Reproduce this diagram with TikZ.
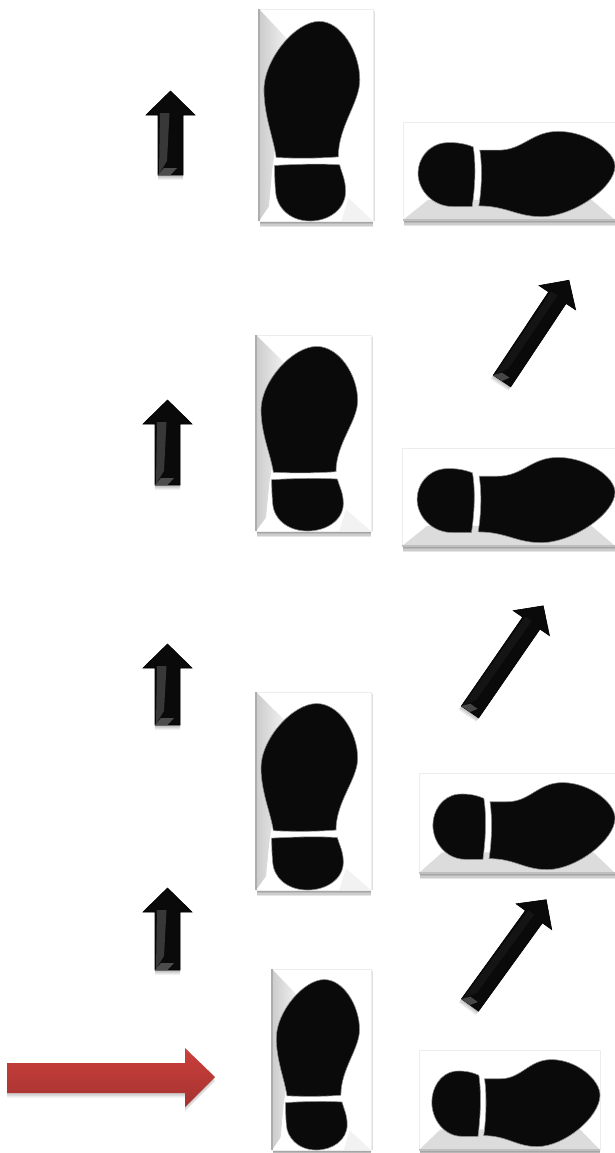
\documentclass[tikz,border=0pt]{standalone}
\usetikzlibrary{calc}
\definecolor{sole}{HTML}{0A0A0A}
\definecolor{bevelgrey}{HTML}{DCDCDC}
\definecolor{redtop}{HTML}{CB403C}
\definecolor{redbot}{HTML}{A53230}
\tikzset{
  solefill/.style={fill=sole,draw=black!45,line width=0.3pt},
  softshadow/.style={fill=black,opacity=0.09,draw=none},
  arrowbody/.style={fill=sole,draw=black,line width=0.3pt},
}
% soft shadow under a box
\newcommand{\boxshadow}[4]{%
  \foreach \g in {1,...,4}{\fill[black,opacity=0.10] (#1+1,#4-1) rectangle (#3,#4+\g*1.5);}
}
% vertical sole plate: x0 y0 x1 y1 (local frame is 345 x 634)
\newcommand{\vfoot}[4]{%
  \boxshadow{#1}{#2}{#3}{#4}
  \fill[black,opacity=0.12] (#3-1,#2+2) rectangle (#3+1.5,#4);
  \filldraw[white,draw=black!7,line width=0.3pt] (#1,#2) rectangle (#3,#4);
  \pgfmathsetmacro{\sx}{(#3-#1)/345}
  \pgfmathsetmacro{\sy}{(#4-#2)/634}
  \begin{scope}[shift={(#1,#2)},xscale=\sx,yscale=\sy]
    \shade[left color=black!20,right color=black!4] (0,0) -- (95,100) -- (40,480) -- (30,590) -- (0,634) -- cycle;
    \draw[black!32,line width=0.6pt] (0,0) -- (0,634);
    \fill[black!5] (270,565) -- (345,634) -- (250,634) -- cycle;
    \path[solefill] (52,444) .. controls (45,390) and (15,320) .. (15,242)
      .. controls (15,150) and (110,37) .. (182,37)
      .. controls (250,37) and (305,130) .. (305,212)
      .. controls (305,280) and (240,350) .. (240,442)
      .. controls (180,447) and (110,447) .. (52,444) -- cycle;
    \path[solefill] (47,468) .. controls (110,464) and (190,462) .. (244,466)
      .. controls (250,490) and (262,510) .. (262,545)
      .. controls (262,600) and (210,634) .. (155,634)
      .. controls (90,634) and (52,590) .. (50,545)
      .. controls (48,520) and (47,490) .. (47,468) -- cycle;
  \end{scope}
}
% horizontal sole plate: x0 y0 x1 y1 (local frame is 635 x 292)
\newcommand{\hfoot}[4]{%
  \boxshadow{#1}{#2}{#3}{#4}
  \filldraw[white,draw=black!7,line width=0.3pt] (#1,#2) rectangle (#3,#4);
  \pgfmathsetmacro{\sx}{(#3-#1)/635}
  \pgfmathsetmacro{\sy}{(#4-#2)/292}
  \begin{scope}[shift={(#1,#2)},xscale=\sx,yscale=\sy]
    \fill[bevelgrey] (0,292) -- (75,232) -- (565,232) -- (635,292) -- cycle;
    \draw[black!25,line width=0.6pt] (0,292) -- (635,292);
    \path[solefill] (210,74) .. controls (180,62) and (150,60) .. (125,62)
      .. controls (75,68) and (45,110) .. (45,152)
      .. controls (45,205) and (90,252) .. (150,252)
      -- (207,252) .. controls (215,200) and (220,130) .. (210,74) -- cycle;
    \path[solefill] (230,84) -- (285,84)
      .. controls (360,84) and (385,28) .. (465,28)
      .. controls (550,28) and (635,85) .. (635,132)
      .. controls (635,195) and (510,282) .. (415,282)
      .. controls (340,282) and (310,250) .. (227,250)
      .. controls (236,200) and (238,130) .. (230,84) -- cycle;
  \end{scope}
}
% arrow: tail x, tail y, visual angle, length, half shaft, half head, head length, stripe grey, tail grey
\newcommand{\blackarrow}[9]{%
  \begin{scope}[shift={(#1,#2)},rotate=#3]
    \foreach \d in {1,2,3}{
      \path[softshadow] (-\d*1.5,-#5) -- (#4-#7,-#5) -- (#4-#7,-#6) -- (#4,0) -- (#4-#7,#6) -- (#4-#7,#5) -- (-\d*1.5,#5) -- cycle;
    }
    \path[arrowbody] (0,-#5) -- (#4-#7,-#5) -- (#4-#7,-#6) -- (#4,0)
      -- (#4-#7,#6) -- (#4-#7,#5) -- (0,#5) -- cycle;
    \fill[black!#8] (1,-#5+1) -- (#4-#7+2,-#5+2) -- (#4-#7+2,-1) -- (14,-#5+9) -- cycle;
    \fill[black!#9] (0,-#5) -- (7,-#5+6) -- (7,#5-6) -- (0,0) -- cycle;
  \end{scope}
}
\begin{document}
\begin{tikzpicture}[x=0.5pt,y=-0.5pt]
\useasboundingbox (0,0) rectangle (615,1153);
\fill[white] (0,0) rectangle (615,1153);

% up arrows
\blackarrow{170.5}{175}{90}{84}{12.5}{24.5}{24}{78}{70}
\blackarrow{167.5}{485}{90}{85}{12.5}{24.5}{24}{78}{70}
\blackarrow{167.5}{725}{90}{81}{12.5}{24.5}{24}{78}{70}
\blackarrow{167.5}{970}{90}{82}{12.5}{24.5}{24}{78}{70}

% diagonal arrows
\blackarrow{502}{381}{56.4}{121}{10.5}{22}{21}{92}{72}
\blackarrow{470}{712}{55.4}{129}{10.5}{22}{21}{92}{72}
\blackarrow{470}{1005}{54.1}{130}{10.5}{22}{21}{92}{72}

% sole plates
\vfoot{259}{9}{373}{221}
\hfoot{403}{122}{615}{220}
\vfoot{256}{335}{371}{531}
\hfoot{402}{448}{615}{546}
\vfoot{256}{692}{371}{890}
\hfoot{419}{773}{615}{873}
\vfoot{272}{969}{371}{1150}
\hfoot{419}{1050}{600}{1150}

% red arrow
\foreach \d in {1,2,3}{
  \fill[black,opacity=0.07] (7,1063+\d*1.5) -- (185,1063+\d*1.5) -- (185,1048+\d*1.5) -- (215,1077+\d*1.5) -- (185,1107+\d*1.5) -- (185,1093+\d*1.5) -- (7,1093+\d*1.5) -- cycle;
}
\shade[top color=redtop,bottom color=redbot,draw=none]
  (7,1063) -- (185,1063) -- (185,1048) -- (215,1077) -- (185,1107) -- (185,1093) -- (7,1093) -- cycle;
\end{tikzpicture}
\end{document}
